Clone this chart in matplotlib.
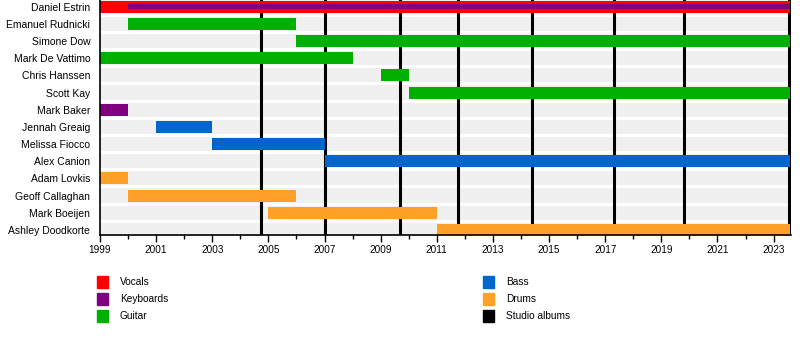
import matplotlib
matplotlib.use("Agg")
import matplotlib.pyplot as plt
from matplotlib.patches import Rectangle

plt.rcParams["font.family"] = ["Liberation Sans", "DejaVu Sans"]

# Band members, top to bottom
members = ["Daniel Estrin", "Emanuel Rudnicki", "Simone Dow", "Mark De Vattimo",
           "Chris Hanssen", "Scott Kay", "Mark Baker", "Jennah Greaig",
           "Melissa Fiocco", "Alex Canion", "Adam Lovkis", "Geoff Callaghan",
           "Mark Boeijen", "Ashley Doodkorte"]

end_year = 2023.6

# (member, role, start, end)
spans = [
    ("Daniel Estrin", "Vocals", 1999.0, end_year),
    ("Emanuel Rudnicki", "Guitar", 2000.0, 2006.0),
    ("Simone Dow", "Guitar", 2006.0, end_year),
    ("Mark De Vattimo", "Guitar", 1999.0, 2008.0),
    ("Chris Hanssen", "Guitar", 2009.0, 2010.0),
    ("Scott Kay", "Guitar", 2010.0, end_year),
    ("Mark Baker", "Keyboards", 1999.0, 2000.0),
    ("Jennah Greaig", "Bass", 2001.0, 2003.0),
    ("Melissa Fiocco", "Bass", 2003.0, 2007.0),
    ("Alex Canion", "Bass", 2007.0, end_year),
    ("Adam Lovkis", "Drums", 1999.0, 2000.0),
    ("Geoff Callaghan", "Drums", 2000.0, 2006.0),
    ("Mark Boeijen", "Drums", 2005.0, 2011.0),
    ("Ashley Doodkorte", "Drums", 2011.0, end_year),
]
# secondary (thin) bars
secondary = [("Daniel Estrin", "Keyboards", 2000.0, end_year)]

albums = [2004.75, 2007.0, 2009.7, 2011.75, 2014.38, 2017.3, 2019.8, 2023.55]

roles = ["Vocals", "Keyboards", "Guitar", "Bass", "Drums", "Studio albums"]
colors = {"Vocals": "#ff0000", "Keyboards": "#800080", "Guitar": "#00b000",
          "Bass": "#0066cc", "Drums": "#ffa028", "Studio albums": "#000000"}

W, H = 800, 364
fig = plt.figure(figsize=(W / 100, H / 100), dpi=100)
ax = fig.add_axes([100 / W, 1 - 235 / H, 691 / W, 235 / H])

rows = {m: i for i, m in enumerate(members)}

# background stripes
for i in range(len(members)):
    ax.barh(i, end_year - 1999, left=1999, height=0.82, color="#f0f0f0", zorder=0)

for m, r, s, e in spans:
    ax.barh(rows[m], e - s, left=s, height=0.7, color=colors[r], zorder=2)
for m, r, s, e in secondary:
    ax.barh(rows[m], e - s, left=s, height=0.32, color=colors[r], zorder=3)

for a in albums:
    ax.axvline(a, color="black", lw=2.2, zorder=1)

ax.set_xlim(1999, end_year + 0.02)
ax.set_ylim(13.3, -0.39)
ax.set_yticks(range(len(members)))
ax.set_yticklabels(members, fontsize=7.5)
ax.tick_params(axis="y", length=0, pad=7)
ax.set_xticks(range(1999, 2024, 2))
ax.set_xticks(range(1999, 2024), minor=True)
ax.tick_params(axis="x", which="major", length=5, width=1, labelsize=7.2, pad=2)
ax.tick_params(axis="x", which="minor", length=3, width=1)
for side in ["top", "right"]:
    ax.spines[side].set_visible(False)
ax.spines["left"].set_linewidth(1.2)
ax.spines["bottom"].set_linewidth(1.2)

# legend
legend_pos = [(97, 282), (97, 299), (97, 316), (483, 282), (483, 299), (483, 316)]
for r, (px, py) in zip(roles, legend_pos):
    fig.patches.append(Rectangle((px / W, 1 - (py + 6) / H), 11 / W, 12 / H,
                                 transform=fig.transFigure, color=colors[r]))
    fig.text((px + 23) / W, 1 - py / H, r, fontsize=7.3, va="center", ha="left")

fig.savefig("out.png", dpi=100)
